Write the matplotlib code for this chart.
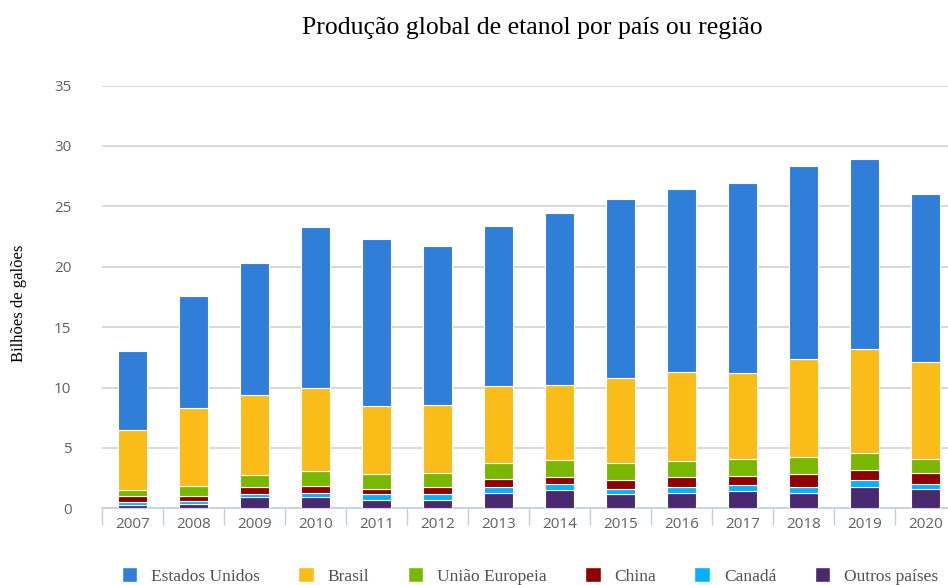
import numpy as np
import matplotlib
matplotlib.use("Agg")
import matplotlib.pyplot as plt
from matplotlib.patches import Patch

years = ["2007", "2008", "2009", "2010", "2011", "2012", "2013",
         "2014", "2015", "2016", "2017", "2018", "2019", "2020"]

# billions of gallons, bottom to top of each stack
outros = [0.31, 0.34, 0.94, 0.92, 0.70, 0.70, 1.28, 1.52, 1.17, 1.30, 1.42, 1.30, 1.77, 1.63]
canada = [0.19, 0.27, 0.23, 0.38, 0.49, 0.49, 0.49, 0.50, 0.41, 0.47, 0.49, 0.47, 0.58, 0.37]
china = [0.53, 0.44, 0.60, 0.58, 0.44, 0.56, 0.69, 0.56, 0.77, 0.81, 0.80, 1.05, 0.81, 0.96]
ue = [0.50, 0.83, 0.97, 1.19, 1.22, 1.21, 1.33, 1.45, 1.44, 1.32, 1.41, 1.44, 1.45, 1.16]
brasil = [4.97, 6.46, 6.68, 6.91, 5.61, 5.63, 6.35, 6.22, 7.04, 7.37, 7.07, 8.12, 8.59, 8.01]
eua = [6.54, 9.20, 10.85, 13.28, 13.83, 13.12, 13.23, 14.20, 14.80, 15.19, 15.74, 15.99, 15.75, 13.89]

series = [("Outros países", outros, "#492970"),
          ("Canadá", canada, "#00B2FF"),
          ("China", china, "#910000"),
          ("União Europeia", ue, "#7AB800"),
          ("Brasil", brasil, "#F9BC19"),
          ("Estados Unidos", eua, "#2F7ED8")]

W, H = 948, 585
fig = plt.figure(figsize=(W / 100, H / 100), dpi=100)
ax = fig.add_axes([102 / W, 76.6 / H, 854 / W, 422.9 / H])

x = np.arange(len(years))
bottom = np.zeros(len(years))
for name, vals, col in series:
    ax.bar(x, vals, width=0.49, bottom=bottom, color=col,
           edgecolor="white", linewidth=0.8, zorder=3)
    bottom += np.array(vals)

ax.set_xlim(-0.5, 13.5)
ax.set_ylim(0, 35)
ax.set_yticks(np.arange(0, 36, 5))
ax.yaxis.grid(True, color="#D8D8D8", linewidth=1.4, zorder=0)
ax.tick_params(axis="y", length=0, pad=22, labelsize=11, labelcolor="#606060")
for lab in ax.get_yticklabels():
    lab.set_fontfamily("Open Sans")

ax.set_xticks(x)
ax.set_xticklabels(years, fontfamily="Open Sans", fontsize=11, color="#606060")
ax.set_xticks(np.arange(-0.5, 14, 1), minor=True)
ax.tick_params(axis="x", which="major", length=0, pad=6)
ax.tick_params(axis="x", which="minor", length=12, color="#C0D0E0", width=1)

for s in ["top", "right", "left"]:
    ax.spines[s].set_visible(False)
ax.spines["bottom"].set_color("#C0D0E0")
ax.spines["bottom"].set_linewidth(1.2)

fig.text(532 / W, 1 - 28 / H, "Produção global de etanol por país ou região",
         ha="center", va="center", fontfamily="Liberation Serif", fontsize=18.5)
fig.text(19 / W, 1 - 303 / H, "Bilhões de galões", rotation=90,
         ha="center", va="center", fontfamily="Liberation Serif", fontsize=12)

handles = [Patch(facecolor=col, edgecolor="white", label=name)
           for name, vals, col in series[::-1]]
leg = fig.legend(handles=handles, loc="center", ncol=6,
                 bbox_to_anchor=(530 / W, 1 - 576 / H), frameon=False,
                 prop={"family": "Liberation Serif", "size": 12.5},
                 handlelength=0.9, handleheight=0.9, handletextpad=0.8,
                 columnspacing=2.2, borderaxespad=0)
for t in leg.get_texts():
    t.set_color("#505050")

fig.savefig("out.png", dpi=100)
